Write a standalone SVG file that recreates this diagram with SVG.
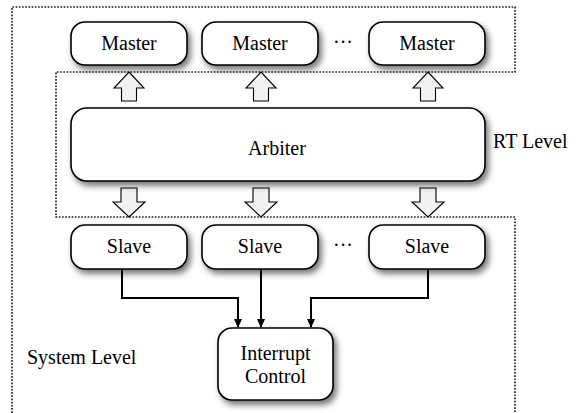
<svg xmlns="http://www.w3.org/2000/svg" width="582" height="413" viewBox="0 0 582 413" font-family="'Liberation Serif', 'DejaVu Serif', serif">
<defs>
<filter id="sh" x="-20%" y="-30%" width="150%" height="170%">
<feDropShadow dx="3" dy="4" stdDeviation="3" flood-color="#000" flood-opacity="0.55"/>
</filter>
<marker id="ah2" markerWidth="9" markerHeight="9" refX="8" refY="4.5" orient="auto" markerUnits="userSpaceOnUse">
<path d="M0,0.5 L9,4.5 L0,8.5 Z" fill="#000"/>
</marker>
</defs>
<style>
.box{fill:#fff;stroke:#000;stroke-width:1.6;filter:url(#sh)}
.t{font-family:'Liberation Serif', 'DejaVu Serif', serif;font-size:20px;fill:#000}
.c{text-anchor:middle}
.dot{fill:none;stroke:#222;stroke-width:1.7;stroke-dasharray:1.7,1.5}
.arr{fill:#f2f2f2;stroke:#000;stroke-width:1.1}
.con{fill:none;stroke:#000;stroke-width:2;marker-end:url(#ah2)}
</style>
<g id="levels">
<path class="dot" d="M12,413 L12,7 L515,7 L515,72 L56,72 L56,217 L515,217 L515,413"/>
<text class="t" x="27" y="364">System Level</text>
<text class="t" x="493" y="148">RT Level</text>
</g>
<g id="block-arrows">
<path class="arr" d="M129,72 L144,88 L136.5,88 L136.5,101 L121.5,101 L121.5,88 L114,88 Z"/>
<path class="arr" d="M261,72 L276,88 L268.5,88 L268.5,101 L253.5,101 L253.5,88 L246,88 Z"/>
<path class="arr" d="M428,72 L443,88 L435.5,88 L435.5,101 L420.5,101 L420.5,88 L413,88 Z"/>
<path class="arr" d="M129,217 L145,202 L137,202 L137,188 L121,188 L121,202 L113,202 Z"/>
<path class="arr" d="M261,217 L277,202 L269,202 L269,188 L253,188 L253,202 L245,202 Z"/>
<path class="arr" d="M428,217 L444,202 L436,202 L436,188 L420,188 L420,202 L412,202 Z"/>
</g>
<g id="master1"><rect class="box" x="71" y="22" width="116" height="43" rx="14"/><text class="t c" x="129" y="50">Master</text></g>
<g id="master2"><rect class="box" x="202" y="22" width="116" height="43" rx="14"/><text class="t c" x="260" y="50">Master</text></g>
<g id="master3"><rect class="box" x="369" y="22" width="116" height="43" rx="14"/><text class="t c" x="427" y="50">Master</text></g>
<text class="t c" x="343" y="49">···</text>
<g id="arbiter"><rect class="box" x="71" y="108" width="414" height="73" rx="16"/><text class="t c" x="277" y="155">Arbiter</text></g>
<g id="slave1"><rect class="box" x="71" y="225" width="116" height="44" rx="14"/><text class="t c" x="129" y="253">Slave</text></g>
<g id="slave2"><rect class="box" x="202" y="225" width="116" height="44" rx="14"/><text class="t c" x="260" y="253">Slave</text></g>
<g id="slave3"><rect class="box" x="369" y="225" width="116" height="44" rx="14"/><text class="t c" x="427" y="253">Slave</text></g>
<text class="t c" x="343" y="252">···</text>
<g id="interrupt"><rect class="box" x="218" y="328" width="115" height="72" rx="14"/><text class="t c" x="275.5" y="360">Interrupt</text><text class="t c" x="275.5" y="383">Control</text></g>
<g id="connectors">
<path class="con" d="M122,269 L122,298 L238,298 L238,327"/>
<path class="con" d="M261,269 L261,327"/>
<path class="con" d="M428,269 L428,298 L311,298 L311,327"/>
</g>
</svg>
